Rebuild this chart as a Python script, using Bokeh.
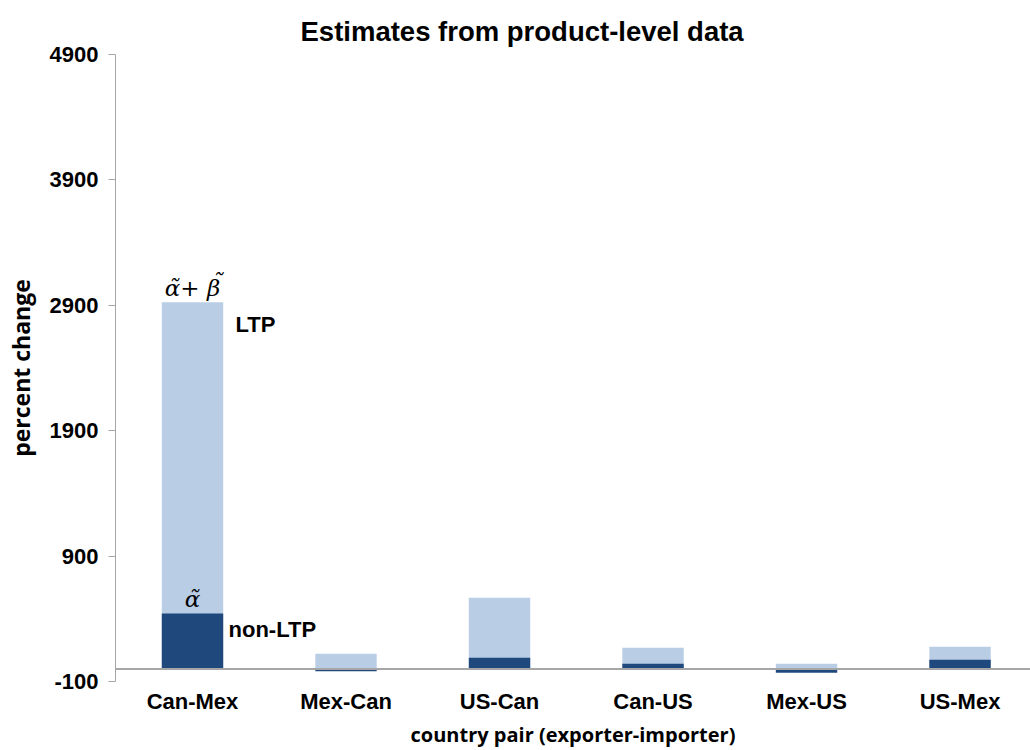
from bokeh.plotting import figure
from bokeh.models import Range1d, FixedTicker, Span, Label, ColumnDataSource
from bokeh.embed import file_html
from bokeh.resources import INLINE

# ---- data ----
pairs = ["Can-Mex", "Mex-Can", "US-Can", "Can-US", "Mex-US", "US-Mex"]
ltp_total = [2924, 122, 568, 170, 42, 178]      # alpha + beta (LTP)
non_ltp = [443, -19, 90, 42, -30, 74]           # alpha (non-LTP)
y_ticks = [-100, 900, 1900, 2900, 3900, 4900]

xs = list(range(len(pairs)))
src = ColumnDataSource(dict(x=xs, total=ltp_total, alpha=non_ltp))

LIGHT = "#B9CDE5"
DARK = "#1F497D"
GRAY = "#A6A6A6"

p = figure(width=1030, height=750, output_backend="svg", toolbar_location=None,
           x_range=Range1d(-0.5016, 5.459), y_range=Range1d(-100, 4900),
           min_border_left=115, min_border_right=0, min_border_bottom=68, min_border_top=54)

p.title.text = "Estimates from product-level data"
p.title.text_font = "Liberation Sans"
p.title.text_font_style = "bold"
p.title.text_font_size = "27.5px"
p.title.align = "left"
p.title.offset = 185
p.title.standoff = 16
p.title.text_color = "black"

p.vbar(x="x", top="total", bottom=0, width=0.4, source=src, color=LIGHT, line_color=None)
p.vbar(x="x", top="alpha", bottom=0, width=0.4, source=src, color=DARK, line_color=None)

p.add_layout(Span(location=0, dimension="width", line_color=GRAY, line_width=2))

p.outline_line_color = None
p.grid.visible = False

# y axis
ya = p.yaxis[0]
ya.ticker = FixedTicker(ticks=y_ticks)
ya.major_label_overrides = {t: str(t) for t in y_ticks}
ya.axis_line_color = GRAY
ya.major_tick_line_color = GRAY
ya.major_tick_in = 0
ya.major_tick_out = 7
ya.minor_tick_line_color = None
ya.major_label_text_font = "Liberation Sans"
ya.major_label_text_font_style = "bold"
ya.major_label_text_font_size = "22px"
ya.major_label_text_color = "black"
ya.major_label_standoff = 10
ya.axis_label = "percent change"
ya.axis_label_text_font = "Open Sans"
ya.axis_label_text_font_style = "bold"
ya.axis_label_text_font_size = "23px"
ya.axis_label_text_color = "black"
ya.axis_label_standoff = 10

# x axis
xa = p.xaxis[0]
xa.ticker = FixedTicker(ticks=xs)
xa.major_label_overrides = {i: n for i, n in enumerate(pairs)}
xa.axis_line_color = None
xa.major_tick_line_color = None
xa.major_tick_in = 0
xa.major_tick_out = 0
xa.minor_tick_line_color = None
xa.minor_tick_out = 0
xa.major_label_text_font = "Liberation Sans"
xa.major_label_text_font_style = "bold"
xa.major_label_text_font_size = "22px"
xa.major_label_text_color = "black"
xa.major_label_standoff = 7
xa.axis_label = "country pair (exporter-importer)"
xa.axis_label_text_font = "Open Sans"
xa.axis_label_text_font_style = "bold"
xa.axis_label_text_font_size = "20px"
xa.axis_label_text_color = "black"
xa.axis_label_standoff = 4

# annotations on the first bar
p.add_layout(Label(x=xs[0], y=ltp_total[0], text="α\u0303+ β", text_align="center",
                   text_baseline="bottom", text_font="DejaVu Serif", text_font_style="italic",
                   text_font_size="23px", y_offset=1, text_color="black"))
p.add_layout(Label(x=xs[0], y=ltp_total[0], text="\u02dc", text_align="center",
                   text_baseline="bottom", text_font="DejaVu Serif", text_font_style="italic",
                   text_font_size="23px", x_offset=25, y_offset=7, text_color="black"))
p.add_layout(Label(x=xs[0], y=ltp_total[0], text="LTP", text_align="left",
                   text_baseline="middle", text_font="Liberation Sans", text_font_style="bold",
                   text_font_size="22px", x_offset=43, y_offset=-22, text_color="black"))
p.add_layout(Label(x=xs[0], y=non_ltp[0], text="α\u0303", text_align="center",
                   text_baseline="bottom", text_font="DejaVu Serif", text_font_style="italic",
                   text_font_size="23px", y_offset=1, text_color="black"))
p.add_layout(Label(x=xs[0], y=non_ltp[0], text="non-LTP", text_align="left",
                   text_baseline="middle", text_font="Liberation Sans", text_font_style="bold",
                   text_font_size="22px", x_offset=36, y_offset=-16, text_color="black"))

open("out.html", "w").write(file_html(p, INLINE))
